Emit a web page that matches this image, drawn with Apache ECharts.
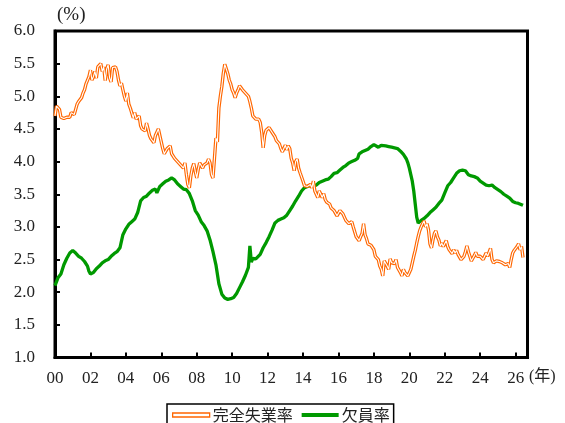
<!DOCTYPE html>
<html><head><meta charset="utf-8">
<script src="https://cdn.jsdelivr.net/npm/echarts@6/dist/echarts.min.js"></script>
<style>html,body{margin:0;padding:0;background:#fff}#c{width:565px;height:423px}</style>
</head><body><div id="c"></div>
<script>
// 完全失業率 (%), monthly from Jan 2000
const unempMonthly = [
4.70,4.85,4.88,4.80,4.68,4.65,4.66,4.64,4.68,4.70,4.68,4.75,
4.78,4.72,4.80,4.88,4.92,4.90,4.98,5.05,5.10,5.19,5.22,5.30,
5.40,5.25,5.30,5.38,5.28,5.45,5.48,5.50,5.38,5.45,5.24,5.42,
5.48,5.28,5.22,5.44,5.47,5.45,5.38,5.25,5.16,5.20,5.10,5.00,
4.93,5.05,4.88,4.82,4.80,4.67,4.75,4.65,4.62,4.70,4.55,4.50,
4.48,4.47,4.59,4.50,4.40,4.35,4.35,4.29,4.40,4.45,4.50,4.52,
4.30,4.20,4.12,4.15,4.20,4.22,4.24,4.12,4.10,4.05,4.08,4.00,
4.02,3.95,3.92,3.90,3.98,3.80,3.65,3.60,3.78,3.90,3.97,3.85,
3.75,3.88,3.98,3.95,3.90,3.95,3.93,3.98,4.04,3.98,3.80,3.75,
4.05,4.36,4.30,4.82,5.00,5.15,5.35,5.49,5.42,5.35,5.25,5.19,
5.10,5.05,4.98,5.05,5.10,5.16,5.13,5.10,5.08,5.05,5.02,5.00,
4.92,4.82,4.70,4.67,4.65,4.68,4.65,4.60,4.45,4.21,4.40,4.48,
4.50,4.52,4.50,4.45,4.47,4.38,4.32,4.30,4.27,4.20,4.15,4.12,
4.25,4.18,4.24,4.20,4.05,3.98,3.86,4.00,4.04,3.90,3.83,3.80,
3.70,3.63,3.65,3.62,3.60,3.65,3.60,3.70,3.55,3.50,3.45,3.55,
3.58,3.45,3.51,3.42,3.38,3.40,3.35,3.29,3.30,3.25,3.22,3.17,
3.18,3.25,3.25,3.20,3.15,3.10,3.12,3.05,3.02,3.08,3.00,2.99,
2.85,2.82,2.79,2.85,2.90,3.05,2.88,2.82,2.74,2.75,2.72,2.70,
2.65,2.55,2.53,2.50,2.40,2.35,2.25,2.48,2.48,2.40,2.35,2.51,
2.45,2.48,2.44,2.50,2.38,2.35,2.30,2.25,2.35,2.30,2.28,2.25,
2.30,2.35,2.45,2.55,2.64,2.75,2.85,2.94,3.00,3.05,3.09,3.00,
3.05,2.95,2.74,2.68,2.80,2.90,2.94,2.85,2.80,2.71,2.75,2.70,
2.72,2.79,2.70,2.65,2.62,2.59,2.65,2.60,2.64,2.58,2.55,2.50,
2.48,2.55,2.62,2.71,2.62,2.55,2.48,2.52,2.56,2.61,2.55,2.52,
2.55,2.53,2.50,2.55,2.60,2.55,2.58,2.67,2.50,2.45,2.47,2.48,
2.45,2.47,2.44,2.45,2.48,2.42,2.40,2.44,2.38,2.50,2.60,2.64,
2.62,2.70,2.74,2.65,2.70,2.53
];
// 欠員率 (%), month index from Jan 2000 and value
const vacancyMonths = [0,2,4,6,8,10,12,14,16,18,20,22,23,24,26,28,30,32,34,36,38,40,42,44,46,48,50,52,54,56,58,60,62,64,66,68,69,71,73,75,77,79,81,83,85,87,89,91,93,95,97,99,101,103,105,107,109,111,113,115,117,119,121,123,125,127,129,131,132,133,134,136,137,139,141,143,145,147,149,151,153,155,157,159,161,163,165,167,169,171,173,175,177,179,181,183,185,187,189,191,193,195,197,199,201,203,205,206,208,210,212,214,216,217,219,221,222,224,226,228,230,232,234,236,238,239,240,241,242,243,244,245,246,247,248,250,252,254,256,258,260,262,264,266,268,270,272,274,276,278,280,282,284,286,288,290,292,294,296,298,300,302,304,306,308,310,312,314,316,317];
const vacancyValues = [2.10,2.22,2.28,2.42,2.52,2.60,2.64,2.60,2.55,2.52,2.47,2.40,2.32,2.28,2.30,2.36,2.40,2.45,2.48,2.50,2.55,2.59,2.62,2.68,2.88,2.97,3.04,3.08,3.12,3.22,3.40,3.45,3.47,3.52,3.56,3.58,3.52,3.62,3.66,3.70,3.72,3.75,3.72,3.66,3.62,3.58,3.57,3.51,3.40,3.25,3.18,3.08,3.02,2.94,2.80,2.62,2.42,2.13,1.97,1.91,1.89,1.90,1.92,1.98,2.07,2.16,2.26,2.38,2.71,2.46,2.52,2.51,2.48,2.58,2.68,2.76,2.85,2.95,3.06,3.10,3.12,3.14,3.18,3.25,3.32,3.40,3.47,3.55,3.60,3.62,3.63,3.62,3.64,3.68,3.70,3.72,3.73,3.77,3.82,3.83,3.87,3.91,3.94,3.98,4.00,4.02,4.05,4.12,4.15,4.17,4.19,4.23,4.26,4.27,4.22,4.25,4.27,4.24,4.23,4.22,4.21,4.20,4.16,4.11,4.04,3.98,3.90,3.80,3.70,3.55,3.35,3.15,3.06,3.08,3.10,3.13,3.17,3.22,3.26,3.30,3.36,3.41,3.52,3.63,3.68,3.75,3.82,3.86,3.87,3.86,3.80,3.78,3.77,3.75,3.70,3.67,3.64,3.63,3.64,3.60,3.57,3.54,3.50,3.47,3.44,3.39,3.37,3.36,3.34,3.33];
const xTickLabels = ['00','02','04','06','08','10','12','14','16','18','20','22','24','26'];
const seriesNames = ['完全失業率','欠員率'];

const ORANGE = '#FF6600', GREEN = '#009900';
const unempData = unempMonthly.map((v,i)=>[i/12, v]);
const vacData = vacancyMonths.map((m,i)=>[m/12, vacancyValues[i]]);

const chart = echarts.init(document.getElementById('c'), null, {renderer:'canvas'});
chart.setOption({
  animation:false,
  backgroundColor:'#fff',
  grid:{left:55, right:37.5, top:31, bottom:65.5, show:true, borderColor:'#000', borderWidth:3, backgroundColor:'transparent'},
  xAxis:{type:'value', min:0, max:26.67, interval:2,
    axisLine:{show:true, lineStyle:{color:'#000', width:3}},
    axisTick:{show:true, inside:true, length:5, lineStyle:{color:'#000', width:2}},
    splitLine:{show:false},
    axisLabel:{margin:13, color:'#222', fontFamily:'Liberation Serif', fontSize:17,
      showMaxLabel:false,
      formatter:v=>{const i=Math.round(v/2); return (Math.abs(v-i*2)<1e-6 && xTickLabels[i]!==undefined)?xTickLabels[i]:'';}}
  },
  yAxis:{type:'value', min:1, max:6, interval:0.5,
    axisLine:{show:true, lineStyle:{color:'#000', width:3}},
    axisTick:{show:true, inside:true, length:5, lineStyle:{color:'#000', width:2}},
    splitLine:{show:false},
    axisLabel:{margin:20, color:'#222', fontFamily:'Liberation Serif', fontSize:17, formatter:v=>v.toFixed(1)}
  },
  legend:{left:167, top:404, padding:[3,4,6,5], itemGap:9, itemWidth:37, itemHeight:4,
    borderColor:'#000', borderWidth:1.5, borderRadius:0,
    textStyle:{fontFamily:'Noto Sans CJK JP', fontSize:16, color:'#222', padding:[0,0,0,-2]},
    data:[
      {name:seriesNames[0], icon:'rect', itemStyle:{color:'#fff', borderColor:ORANGE, borderWidth:1.3}},
      {name:seriesNames[1], icon:'rect', itemStyle:{color:GREEN, borderWidth:0}}
    ]},
  graphic:[
    {type:'text', left:57, top:6, style:{text:'(%)', font:'19px "Liberation Serif"', fill:'#222'}},
    {type:'text', left:529, top:369, style:{text:'(年)', font:'16px "Liberation Serif","Noto Sans CJK JP"', fill:'#222'}}
  ],
  series:[
    {name:seriesNames[1], type:'line', data:vacData, showSymbol:false, z:2, color:GREEN,
      lineStyle:{color:GREEN, width:3.3}},
    {name:seriesNames[0], type:'line', data:unempData, showSymbol:false, z:3, color:ORANGE,
      lineStyle:{color:ORANGE, width:3.4}},
    {name:'inner', type:'line', data:unempData, showSymbol:false, z:4, color:'#fff',
      lineStyle:{color:'#fff', width:1.1}}
  ]
});
</script></body></html>
